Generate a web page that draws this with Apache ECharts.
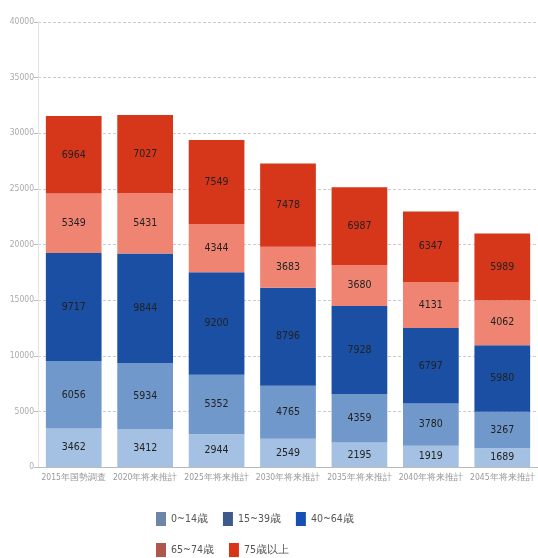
<!DOCTYPE html>
<html><head><meta charset="utf-8">
<script src="https://cdn.jsdelivr.net/npm/echarts@6/dist/echarts.min.js"></script>
<style>html,body{margin:0;padding:0;background:#fff}#c{width:538px;height:558px}</style>
</head><body><div id="c"></div>
<script>
const categories = ['2015年国勢調査','2020年将来推計','2025年将来推計','2030年将来推計','2035年将来推計','2040年将来推計','2045年将来推計'];
const seriesNames = ['0~14歳','15~39歳','40~64歳','65~74歳','75歳以上'];
const age0_14 = [3462, 3412, 2944, 2549, 2195, 1919, 1689];
const age15_39 = [6056, 5934, 5352, 4765, 4359, 3780, 3267];
const age40_64 = [9717, 9844, 9200, 8796, 7928, 6797, 5980];
const age65_74 = [5349, 5431, 4344, 3683, 3680, 4131, 4062];
const age75 = [6964, 7027, 7549, 7478, 6987, 6347, 5989];
const yTicks = [0, 5000, 10000, 15000, 20000, 25000, 30000, 35000, 40000];

const barColors = ['#a4c0e3', '#7098cb', '#1a4fa3', '#f08472', '#d6361a'];
const legendColors = ['#6d85a6', '#3d5a8c', '#1750b4', '#b0564c', '#d93618'];
const values = [age0_14, age15_39, age40_64, age65_74, age75];
const font = '"Liberation Sans Narrow", "DejaVu Sans Condensed", sans-serif';

const chart = echarts.init(document.getElementById('c'));
chart.setOption({
  animation: false,
  grid: { left: 38, right: -4, top: 22, bottom: 91 },
  legend: [
    { left: 151, top: 507, itemWidth: 10, itemHeight: 14, itemGap: 15, icon: 'rect',
      textStyle: { color: '#555', fontSize: 10.5, fontFamily: font },
      data: [0,1,2].map(i => ({ name: seriesNames[i], itemStyle: { color: legendColors[i] } })) },
    { left: 151, top: 538, itemWidth: 10, itemHeight: 14, itemGap: 15, icon: 'rect',
      textStyle: { color: '#555', fontSize: 10.5, fontFamily: font },
      data: [3,4].map(i => ({ name: seriesNames[i], itemStyle: { color: legendColors[i] } })) }
  ],
  xAxis: {
    type: 'category', data: categories,
    axisLine: { lineStyle: { color: '#bbb' } },
    axisTick: { show: false },
    axisLabel: { color: '#999', fontSize: 8.5, fontFamily: font, margin: 6, interval: 0 }
  },
  yAxis: {
    type: 'value', min: 0, max: 40000, interval: 5000,
    axisLine: { show: true, lineStyle: { color: '#e4e4e4' } },
    axisTick: { show: true, length: 4, lineStyle: { color: '#bbb' } },
    axisLabel: { color: '#aaa', fontSize: 8.5, fontFamily: font, margin: 4,
      formatter: v => yTicks.includes(v) ? String(v) : '' },
    splitLine: { lineStyle: { color: '#ccc', type: [3, 2] } }
  },
  series: values.map((d, i) => ({
    name: seriesNames[i], type: 'bar', stack: 'total', data: d,
    barCategoryGap: '22%',
    itemStyle: { color: barColors[i] },
    label: { show: true, position: 'inside', color: '#222', fontSize: 10.5, fontFamily: font }
  }))
});
</script></body></html>
